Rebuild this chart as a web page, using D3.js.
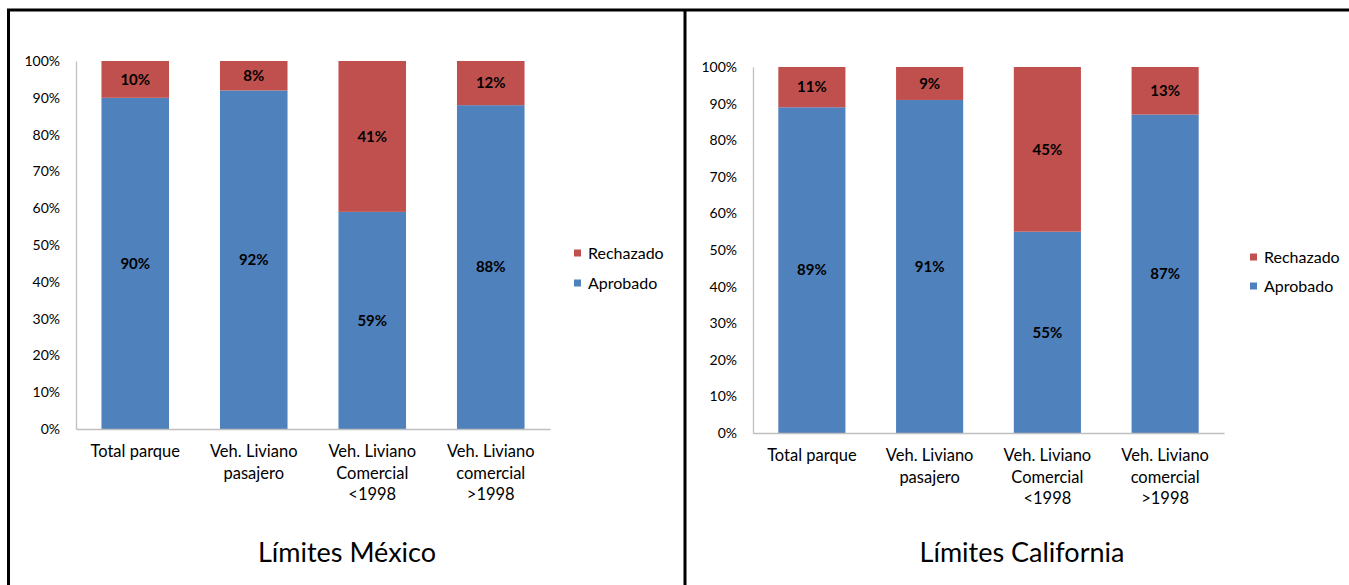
<!DOCTYPE html>
<html><head><meta charset="utf-8">
<script src="https://cdn.jsdelivr.net/npm/d3@7"></script>
<style>body{margin:0;background:#fff;}svg{display:block;font-family:Lato,"Open Sans",sans-serif;}</style>
</head><body>
<svg id="c" width="1349" height="585"></svg>
<script>
const categories = ["Total parque", "Veh. Liviano pasajero", "Veh. Liviano Comercial <1998", "Veh. Liviano comercial >1998"];
const categoryLines = [["Total parque"], ["Veh. Liviano", "pasajero"], ["Veh. Liviano", "Comercial", "<1998"], ["Veh. Liviano", "comercial", ">1998"]];
const seriesNames = ["Aprobado", "Rechazado"];
const mexicoAprobado = [90, 92, 59, 88];
const mexicoRechazado = [10, 8, 41, 12];
const californiaAprobado = [89, 91, 55, 87];
const californiaRechazado = [11, 9, 45, 13];
const yTicks = [0, 10, 20, 30, 40, 50, 60, 70, 80, 90, 100];
const titles = ["Límites México", "Límites California"];
const colors = {Aprobado: "#4F81BD", Rechazado: "#C0504D"};

const svg = d3.select("#c");

// frame lines
svg.append("line").attr("x1", 7).attr("x2", 1349).attr("y1", 10).attr("y2", 10).attr("stroke", "#000").attr("stroke-width", 3);
svg.append("line").attr("x1", 8.5).attr("x2", 8.5).attr("y1", 9).attr("y2", 585).attr("stroke", "#000").attr("stroke-width", 3);
svg.append("line").attr("x1", 685).attr("x2", 685).attr("y1", 9).attr("y2", 585).attr("stroke", "#000").attr("stroke-width", 3);

function panel(cfg) {
  const g = svg.append("g");
  const x = d3.scaleBand().domain(categories).range([cfg.x0, cfg.x1]).paddingInner(0.43).paddingOuter(0.215);
  const y = d3.scaleLinear().domain([0, 100]).range([cfg.yBottom, cfg.yTop]);

  const rows = categories.map((c, i) => ({cat: c, Aprobado: cfg.aprobado[i], Rechazado: cfg.rechazado[i]}));
  const stack = d3.stack().keys(seriesNames)(rows);

  // axes
  const yAxis = g.append("g").attr("transform", `translate(${cfg.x0},0)`)
    .call(d3.axisLeft(y).tickValues(yTicks).tickSize(0).tickPadding(16).tickFormat(d => d + "%"));
  yAxis.select(".domain").attr("stroke", "#BFBFBF").attr("stroke-width", 1.3);
  yAxis.selectAll("text").attr("font-size", 14).attr("fill", "#000").attr("font-family", "Lato");

  const layers = g.selectAll(".layer").data(stack).join("g").attr("fill", d => colors[d.key]);
  layers.selectAll("rect").data(d => d).join("rect")
    .attr("x", d => x(d.data.cat))
    .attr("width", x.bandwidth())
    .attr("y", d => y(d[1]))
    .attr("height", d => y(d[0]) - y(d[1]));

  const xAxis = g.append("g").attr("transform", `translate(0,${cfg.yBottom})`)
    .call(d3.axisBottom(x).tickSize(0).tickFormat(""));
  xAxis.select(".domain").attr("stroke", "#BFBFBF").attr("stroke-width", 1.3);
  xAxis.selectAll(".tick").each(function(d, i) {
    const t = d3.select(this).append("text").attr("fill", "#000").attr("font-size", 16.5).attr("font-family", "Lato").attr("text-anchor", "middle");
    categoryLines[i].forEach((ln, j) => t.append("tspan").attr("x", 0).attr("y", 28 + j * 21.5).text(ln));
  });

  // data labels
  stack.forEach(s => {
    g.selectAll(null).data(s).join("text")
      .attr("x", d => x(d.data.cat) + x.bandwidth() / 2)
      .attr("y", d => (y(d[0]) + y(d[1])) / 2)
      .attr("dy", "0.35em")
      .attr("text-anchor", "middle")
      .attr("font-weight", "bold")
      .attr("font-size", 15)
      .attr("font-family", "Lato")
      .text(d => (d[1] - d[0]) + "%");
  });

  // legend
  const legendKeys = ["Rechazado", "Aprobado"];
  legendKeys.forEach((k, i) => {
    const ly = cfg.legendY[i];
    g.append("rect").attr("x", cfg.legendX).attr("y", ly - 3.5).attr("width", 7).attr("height", 7).attr("fill", colors[k]);
    g.append("text").attr("x", cfg.legendX + 14).attr("y", ly).attr("dy", "0.35em").attr("font-size", 16).attr("font-family", "Lato").text(k);
  });

  g.append("text").attr("x", cfg.titleX).attr("y", 553).attr("dy", "0.35em").attr("text-anchor", "middle")
    .attr("font-size", 27).attr("font-family", "Lato").text(cfg.title);
}

panel({x0: 76, x1: 550, yTop: 61, yBottom: 429, aprobado: mexicoAprobado, rechazado: mexicoRechazado,
  legendX: 574, legendY: [253, 283], title: titles[0], titleX: 347});
panel({x0: 753, x1: 1224, yTop: 67, yBottom: 433, aprobado: californiaAprobado, rechazado: californiaRechazado,
  legendX: 1250, legendY: [257, 286], title: titles[1], titleX: 1022});
</script>
</body></html>
